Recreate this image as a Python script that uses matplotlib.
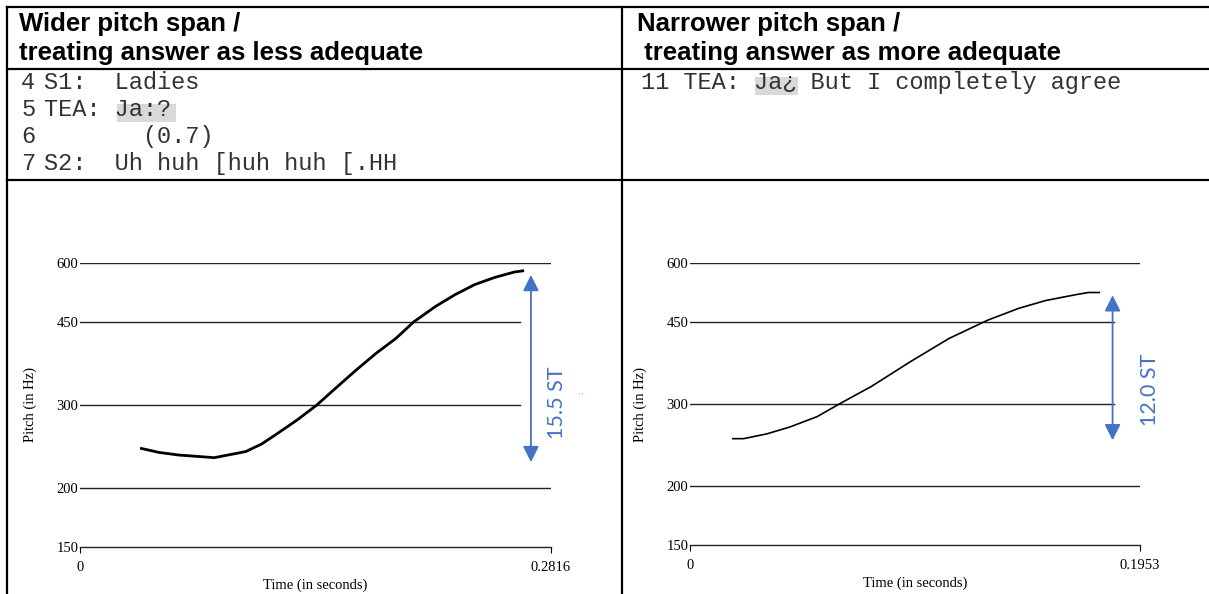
import matplotlib
matplotlib.use("Agg")
import matplotlib.pyplot as plt
from matplotlib.patches import Rectangle
from matplotlib.lines import Line2D

W, H = 1209, 594
BLUE = "#4472C4"

# headers and transcript
headers_left = ["Wider pitch span /", "treating answer as less adequate"]
headers_right = ["Narrower pitch span /", " treating answer as more adequate"]
left_numbers = ["4", "5", "6", "7"]
left_lines = ["S1:  Ladies", "TEA: Ja:?", "       (0.7)", "S2:  Uh huh [huh huh [.HH"]
right_line = "11 TEA: Ja¿ But I completely agree"

# pitch tracks (time in s, pitch in Hz)
wide_time = [0.0359, 0.0472, 0.0590, 0.0803, 0.0991, 0.1086, 0.1180, 0.1299, 0.1416,
             0.1534, 0.1652, 0.1770, 0.1888, 0.1995, 0.2124, 0.2242, 0.2360, 0.2478,
             0.2596, 0.2655]
wide_pitch = [243, 238, 235, 232, 239, 248, 261, 279, 300, 327, 356, 386, 415, 450,
              485, 514, 540, 559, 574, 578]
narrow_time = [0.0182, 0.0232, 0.0333, 0.0434, 0.0552, 0.0653, 0.0787, 0.0955, 0.1124,
               0.1292, 0.1426, 0.1544, 0.1679, 0.1729, 0.1780]
narrow_pitch = [253, 253, 259, 268, 282, 301, 327, 369, 414, 453, 480, 499, 514, 519, 519]

yticks = [150, 200, 300, 450, 600]
wide_end = 0.2816
narrow_end = 0.1953
span_labels = ["15.5 ST", "12.0 ST"]


def fx(x):
    return x / W


def fy(y):
    return 1 - y / H


fig = plt.figure(figsize=(W / 100, H / 100), dpi=100)

# table rules
for (x0, y0, x1, y1) in [(7, 7, W, 7), (7, 69, W, 69), (7, 180, W, 180),
                         (7, 7, 7, H), (622, 7, 622, H)]:
    fig.add_artist(Line2D([fx(x0), fx(x1)], [fy(y0), fy(y1)], color="black", lw=1.6))

hfont = dict(family="Liberation Sans", weight="bold", size=18.5)
for i, txt in enumerate(headers_left):
    fig.text(fx(19), fy(31 + 29 * i), txt, va="baseline", ha="left", **hfont)
for i, txt in enumerate(headers_right):
    fig.text(fx(637), fy(31 + 29 * i), txt, va="baseline", ha="left", **hfont)

# highlighted words
fig.add_artist(Rectangle((fx(117), fy(122)), fx(59), fy(0) - fy(18), color="#d9d9d9", lw=0))
fig.add_artist(Rectangle((fx(755), fy(95)), fx(43), fy(0) - fy(18), color="#d9d9d9", lw=0))

mfont = dict(family="Liberation Mono", size=17, color="#333333")
for i, (num, txt) in enumerate(zip(left_numbers, left_lines)):
    base = 89 + 27 * i
    fig.text(fx(21), fy(base), num, va="baseline", ha="left", **mfont)
    fig.text(fx(44), fy(base), txt, va="baseline", ha="left", **mfont)
fig.text(fx(641), fy(89), right_line, va="baseline", ha="left", **mfont)


def pitch_panel(rect, t, p, tend, cut, arrow_t, arrow_lo, arrow_hi, label, label_xy, lw):
    ax = fig.add_axes(rect)
    ax.set_yscale("log")
    ax.set_xlim(0, tend)
    ax.set_ylim(150, 600)
    for s in ["top", "right", "left"]:
        ax.spines[s].set_visible(False)
    ax.spines["bottom"].set_linewidth(1.0)
    ax.spines["bottom"].set_color("#222222")
    for v in [200, 600]:
        ax.axhline(v, color="#222222", lw=1.0)
    for v in [300, 450]:
        ax.plot([0, cut], [v, v], color="#222222", lw=1.0)
    ax.set_yticks(yticks)
    ax.set_yticklabels([str(v) for v in yticks])
    ax.yaxis.set_minor_locator(matplotlib.ticker.NullLocator())
    ax.set_xticks([0, tend])
    ax.set_xticklabels(["0", f"{tend:.4f}"])
    ax.tick_params(axis="y", length=0, pad=1, labelsize=10.5)
    ax.tick_params(axis="x", length=4, width=0.8, direction="out", pad=6, labelsize=10.5)
    for lab in ax.get_xticklabels() + ax.get_yticklabels():
        lab.set_family("Liberation Serif")
    ax.plot(t, p, color="black", lw=lw, solid_capstyle="butt")
    ax.annotate("", xy=(arrow_t, arrow_lo), xytext=(arrow_t, arrow_hi),
                arrowprops=dict(arrowstyle="<|-|>", color=BLUE, lw=1.3,
                                mutation_scale=24, shrinkA=0, shrinkB=0))
    ax.text(label_xy[0], label_xy[1], label, rotation=90, color=BLUE, fontsize=15.5,
            family="Lato", ha="center", va="center", clip_on=False)
    ax.set_ylabel("Pitch (in Hz)", family="Liberation Serif", fontsize=10.5, labelpad=14)
    ax.set_xlabel("Time (in seconds)", family="Liberation Serif", fontsize=10.5, labelpad=3)
    return ax


ax1 = pitch_panel([fx(80), fy(547), fx(551 - 80), fy(263) - fy(547)],
                  wide_time, wide_pitch, wide_end, 0.2632, 0.2696, 227, 566,
                  span_labels[0], (0.2852, 303), 2.0)
ax1.text(0.2995, 318, ":", rotation=90, color=BLUE, fontsize=5, ha="center",
         va="center", clip_on=False)

ax2 = pitch_panel([fx(690), fy(545), fx(1140 - 690), fy(263) - fy(545)],
                  narrow_time, narrow_pitch, narrow_end, 0.1839, 0.1834, 251, 512,
                  span_labels[1], (0.1996, 321), 1.2)

fig.savefig("out.png", dpi=100)
